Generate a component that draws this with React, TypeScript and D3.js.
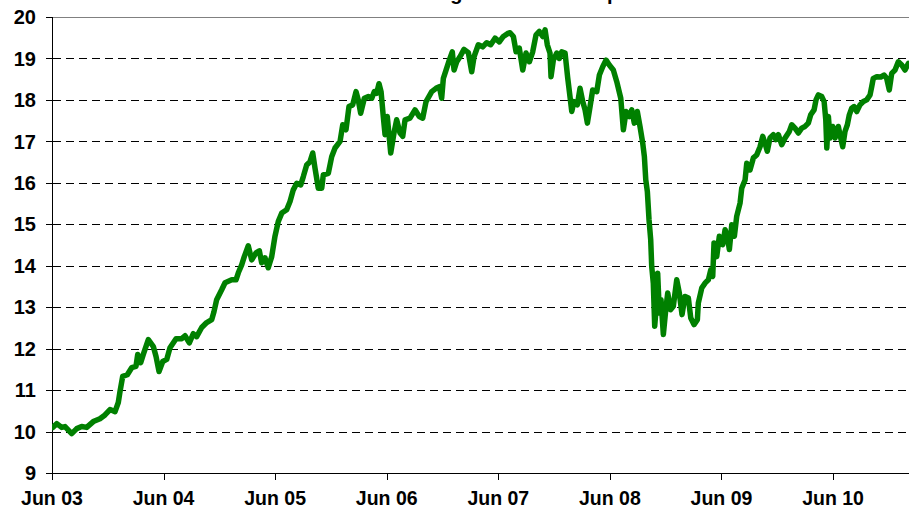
import React from "react";
import * as d3 from "d3";

// months since Jun 03
const months = [
  0.08, 0.51, 1.04, 1.4, 2.12, 2.66, 3.19, 3.73, 4.44, 5.16, 5.7, 6.24, 6.78, 7.13, 7.31, 7.6,
  8.1, 8.57, 9.03, 9.22, 9.54, 9.82, 10.36, 10.9, 11.19, 11.51, 11.91, 12.34, 12.69, 13.34,
  13.95, 14.31, 14.77, 15.2, 15.56, 16.1, 16.64, 17.18, 17.42, 17.71, 18.25, 18.61, 19.33,
  19.79, 20.04, 20.4, 20.68, 21.11, 21.48, 21.94, 22.3, 22.55, 22.91, 23.26, 23.63,
  23.98, 24.34, 24.71, 25.24, 25.6, 25.95, 26.32, 26.75, 27.03, 27.39, 27.75, 28.04, 28.29,
  28.64, 29.01, 29.18, 29.72, 30.08, 30.44, 30.98, 31.27, 31.62, 31.94, 32.34, 32.7, 32.94,
  33.2, 33.59, 34.02, 34.39, 34.67, 34.92, 35.17, 35.39, 35.63, 35.82, 36.06, 36.43, 36.78,
  37.07, 37.43, 37.72, 37.97, 38.5, 39.04, 39.5, 39.87, 40.23, 40.84, 41.3, 41.66, 41.91,
  42.09, 42.38, 42.73, 43.05, 43.24, 43.53, 43.88, 44.31, 44.78, 45.14, 45.39, 45.85, 46.32,
  46.75, 47.18, 47.65, 48.11, 48.54, 49.08,
  49.26, 49.62, 49.91, 50.26, 50.63, 50.98, 51.34, 51.7, 52.06, 52.41, 52.78, 53.03, 53.27,
  53.56, 53.67, 53.92, 54.28, 54.56, 54.82, 55.18, 55.47, 55.71, 55.9, 56.14, 56.5, 56.79,
  57.08, 57.33, 57.58, 57.87, 58.15, 58.59, 58.87, 59.23, 59.59, 59.94, 60.37, 60.74, 61.17,
  61.45, 61.74, 62.09, 62.35, 62.63, 62.95, 63.24, 63.53, 63.71, 63.86, 64.03, 64.21, 64.39,
  64.5, 64.67, 64.82, 64.96, 65.14, 65.32, 65.5, 65.75, 66.01, 66.22, 66.54, 66.82, 67.19,
  67.47, 67.76, 68.08, 68.44, 68.7, 69.05, 69.41,
  69.51, 69.88, 70.23, 70.59, 70.85, 71.06, 71.2, 71.49, 71.77, 72.14, 72.39, 72.63, 72.85,
  73.11, 73.39, 73.64, 74.0, 74.18, 74.54, 74.72, 75.07, 75.43, 75.79, 76.15, 76.44, 76.68,
  76.93, 77.22, 77.58, 77.87, 78.12, 78.48, 78.84, 79.3, 79.56, 79.91, 80.27, 80.63, 80.99,
  81.34, 81.6, 81.96, 82.17, 82.42, 82.79, 83.04, 83.22, 83.33, 83.5, 83.68, 83.97, 84.22,
  84.57, 84.75, 85.04, 85.29, 85.54, 85.75, 86.01, 86.26, 86.55, 86.9, 87.26, 87.62, 87.98,
  88.16, 88.33, 88.7, 89.13, 89.48, 89.77, 90.05, 90.31, 90.67, 91.02, 91.39, 91.74, 92.1,
];

const values = [
  10.1, 10.19, 10.1, 10.12, 9.95, 10.07, 10.12, 10.1, 10.24, 10.31, 10.4, 10.53, 10.48, 10.7,
  10.96, 11.33, 11.37, 11.54, 11.57, 11.86, 11.66, 11.86, 12.22, 12.05, 11.81, 11.45, 11.69,
  11.74, 12.02, 12.24, 12.24, 12.31, 12.14, 12.36, 12.29, 12.51, 12.63, 12.7, 12.89, 13.18,
  13.42, 13.59, 13.66, 13.66, 13.83, 14.02, 14.22, 14.48, 14.14, 14.31, 14.36, 14.07, 14.19,
  13.95, 14.22,
  14.71, 15.07, 15.27, 15.35, 15.55, 15.83, 15.99, 15.95, 16.15, 16.43, 16.51, 16.72, 16.35,
  15.87, 15.87, 16.19, 16.23, 16.63, 16.84, 17.0, 17.4, 17.28, 17.84, 17.88, 18.2, 18.0,
  17.68, 18.04, 18.08, 18.04, 18.2, 18.16, 18.39, 18.2, 17.6, 17.16, 17.6, 16.72, 17.2,
  17.52, 17.2, 17.12, 17.52, 17.56, 17.76, 17.6, 17.56, 17.96, 18.2, 18.28, 18.32, 18.04,
  18.52, 18.72, 18.96, 19.16, 18.72, 18.92, 19.04, 19.22, 19.14, 18.68, 19.04, 19.33, 19.28,
  19.38, 19.33, 19.49, 19.4, 19.53, 19.61,
  19.62, 19.53, 19.16, 19.25, 18.72, 19.13, 18.92, 19.16, 19.57, 19.65, 19.53, 19.69, 19.33,
  19.13, 18.56, 18.96, 19.13, 19.0, 19.16, 19.13, 18.52, 18.08, 17.72, 17.96, 17.88, 18.28,
  17.96, 17.76, 17.44, 17.84, 18.24, 18.2, 18.6, 18.8, 18.96, 18.84, 18.72, 18.44, 18.04,
  17.28, 17.72, 17.6, 17.76, 17.44, 17.72, 17.36, 16.96, 16.63, 16.07, 15.79, 15.11, 14.63,
  13.98, 13.58, 12.54, 12.94, 13.82, 12.86, 13.18, 12.34, 12.94, 13.34, 12.94, 13.02, 13.66,
  13.34, 12.82, 13.26, 13.22, 12.74, 12.58, 12.7,
  13.1, 13.46, 13.58, 13.66, 13.9, 13.74, 14.55, 14.22, 14.71, 14.51, 14.87, 14.71, 14.39,
  14.99, 14.71, 15.19, 15.51, 15.87, 16.07, 16.47, 16.31, 16.6, 16.67, 16.87, 17.12, 16.96,
  16.76, 17.08, 17.16, 17.04, 17.16, 16.92, 17.08, 17.24, 17.4, 17.32, 17.2, 17.32, 17.36,
  17.44, 17.64, 17.76, 18.0, 18.12, 18.08, 17.96, 17.52, 16.84, 17.6, 17.08, 17.36, 17.08,
  17.36, 17.16, 16.87, 17.24, 17.4, 17.64, 17.8, 17.84, 17.72, 17.88, 17.96, 18.0, 18.12,
  18.32, 18.52, 18.56, 18.55, 18.6, 18.52, 18.24, 18.64, 18.72, 18.92, 18.84, 18.72, 18.88,
];

const yTicks = [9, 10, 11, 12, 13, 14, 15, 16, 17, 18, 19, 20];
const xTickMonths = [0, 12, 24, 36, 48, 60, 72, 84];
const xTickLabels = ["Jun 03", "Jun 04", "Jun 05", "Jun 06", "Jun 07", "Jun 08", "Jun 09", "Jun 10"];
const title = "Total return of long-term bonds in percent";

const width = 909;
const height = 511;
const margin = { top: 17, right: 0, bottom: 38, left: 52 };
const font = "'Liberation Sans', Arial, Helvetica, sans-serif";

export default function App() {
  const x = d3.scaleLinear().domain([0, 92.17]).range([margin.left, width - margin.right]);
  const y = d3.scaleLinear().domain([9, 20]).range([height - margin.bottom, margin.top]);

  const points: [number, number][] = months.map((m, i) => [m, values[i]]);
  const line = d3
    .line<[number, number]>()
    .x(d => x(d[0]))
    .y(d => y(d[1]))
    .curve(d3.curveLinear);

  const px = (v: number) => Math.round(v) + 0.5;
  const x0 = px(x(0));
  const yBottom = px(y(9));

  return (
    <svg
      width={width}
      height={height}
      style={{ position: "absolute", left: 0, top: 0, background: "#fff" }}
      fontFamily={font}
      fontWeight="bold"
    >
      <defs>
        <clipPath id="plot">
          <rect x={margin.left} y={0} width={width - margin.left} height={height - margin.bottom} />
        </clipPath>
      </defs>

      {/* title sits mostly above the top edge, as in the source image */}
      <text x={480} y={0} textAnchor="middle" fontSize={20}>
        {title}
      </text>

      {/* gridlines */}
      {yTicks.filter(t => t > 9 && t < 20).map(t => (
        <line
          key={"g" + t}
          x1={x0}
          x2={width}
          y1={px(y(t))}
          y2={px(y(t))}
          stroke="#000"
          strokeWidth={1}
          strokeDasharray="8,5"
          shapeRendering="crispEdges"
        />
      ))}
      <line x1={x0} x2={width} y1={px(y(20))} y2={px(y(20))} stroke="#808080" shapeRendering="crispEdges" />

      {/* axes */}
      <line x1={x0} x2={x0} y1={px(y(20))} y2={yBottom} stroke="#000" shapeRendering="crispEdges" />
      <line x1={x0} x2={width} y1={yBottom} y2={yBottom} stroke="#000" shapeRendering="crispEdges" />

      {yTicks.map(t => (
        <g key={"y" + t}>
          <line x1={x0 - 7} x2={x0} y1={px(y(t))} y2={px(y(t))} stroke="#000" shapeRendering="crispEdges" />
          <text x={36} y={y(t)} dy="0.36em" textAnchor="end" fontSize={20}>
            {t}
          </text>
        </g>
      ))}

      {xTickMonths.map((m, i) => (
        <g key={"x" + m}>
          <line x1={px(x(m))} x2={px(x(m))} y1={yBottom} y2={yBottom + 6} stroke="#000" shapeRendering="crispEdges" />
          <text x={x(m)} y={505} textAnchor="middle" fontSize={19.5}>
            {xTickLabels[i]}
          </text>
        </g>
      ))}

      <path
        d={line(points) || ""}
        fill="none"
        stroke="#008000"
        strokeWidth={5.5}
        strokeLinejoin="round"
        strokeLinecap="round"
        clipPath="url(#plot)"
      />
    </svg>
  );
}
